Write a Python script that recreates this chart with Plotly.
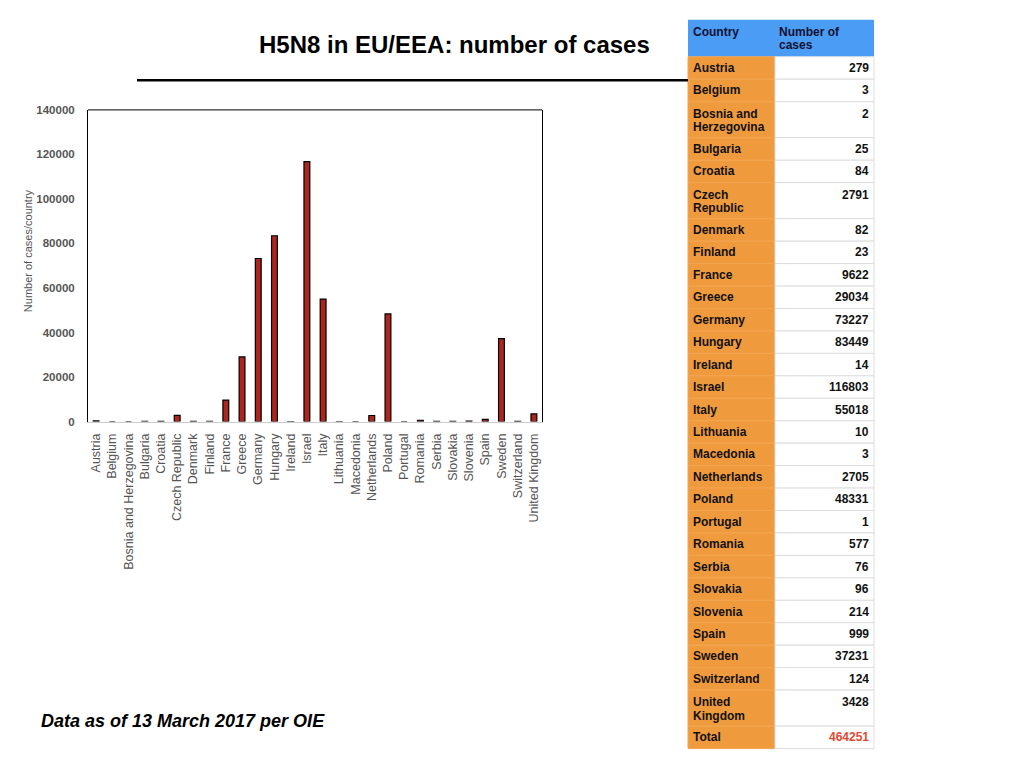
import plotly.graph_objects as go

countries = ["Austria", "Belgium", "Bosnia and Herzegovina", "Bulgaria", "Croatia",
             "Czech Republic", "Denmark", "Finland", "France", "Greece", "Germany",
             "Hungary", "Ireland", "Israel", "Italy", "Lithuania", "Macedonia",
             "Netherlands", "Poland", "Portugal", "Romania", "Serbia", "Slovakia",
             "Slovenia", "Spain", "Sweden", "Switzerland", "United Kingdom"]
cases = [279, 3, 2, 25, 84, 2791, 82, 23, 9622, 29034, 73227, 83449, 14, 116803,
         55018, 10, 3, 2705, 48331, 1, 577, 76, 96, 214, 999, 37231, 124, 3428]
total = 464251

# names as wrapped in the table
table_names = ["Austria", "Belgium", "Bosnia and<br>Herzegovina", "Bulgaria", "Croatia",
               "Czech<br>Republic", "Denmark", "Finland", "France", "Greece", "Germany",
               "Hungary", "Ireland", "Israel", "Italy", "Lithuania", "Macedonia",
               "Netherlands", "Poland", "Portugal", "Romania", "Serbia", "Slovakia",
               "Slovenia", "Spain", "Sweden", "Switzerland", "United<br>Kingdom"]
header = ["Country", "Number of<br>cases"]

# figure size and where the page puts it (measured on the screenshot)
W, H = 1016, 752
OX, OY = 8, 14.3
HE = 738.5

def X(x):
    return (x - OX) / W

def Y(y):
    return 1 - (y - OY) / HE

FONT = "Liberation Sans, Arial, Helvetica"
GRAY = "#555555"

fig = go.Figure()
fig.add_trace(go.Bar(
    x=countries, y=cases, width=0.36,
    marker=dict(color="#ac261d", line=dict(color="black", width=1.2)),
    showlegend=False))

shapes = []
annotations = []

# table drawn with shapes and annotations
tx0, tx1, tx2 = 688, 775, 874
top = 20
head_h = 37
single_h, double_h = 22.4, 36
blue, orange = "#4b9cf4", "#f09a3e"

def cell_text(text, x, y, anchor, color="#111111"):
    annotations.append(dict(text="<b>%s</b>" % text, xref="paper", yref="paper",
                            x=X(x), y=Y(y), showarrow=False, xanchor=anchor,
                            yanchor="middle", font=dict(size=12, color=color)))

shapes.append(dict(type="rect", xref="paper", yref="paper", x0=X(tx0), x1=X(tx2),
                   y0=Y(top + head_h), y1=Y(top), fillcolor=blue, line=dict(width=0),
                   layer="below"))
for j, h in enumerate(header):
    xx = tx0 + 3 if j == 0 else tx1 + 2
    for k, line in enumerate(h.split("<br>")):
        cell_text(line, xx, top + 12 + 13.5 * k, "left", "#111133")

rows = list(zip(table_names, ["%d" % v for v in cases]))
rows.append(("Total", "%d" % total))
y = top + head_h
for i, (name, val) in enumerate(rows):
    lines = name.split("<br>")
    h = single_h if len(lines) == 1 else double_h
    shapes.append(dict(type="rect", xref="paper", yref="paper", x0=X(tx0), x1=X(tx1),
                       y0=Y(y + h), y1=Y(y), fillcolor=orange,
                       line=dict(color="#f2a550", width=1), layer="below"))
    shapes.append(dict(type="rect", xref="paper", yref="paper", x0=X(tx1), x1=X(tx2),
                       y0=Y(y + h), y1=Y(y), fillcolor="white",
                       line=dict(color="#dddddd", width=1), layer="below"))
    if len(lines) == 1:
        cell_text(name, tx0 + 3, y + h / 2, "left")
    else:
        for k, line in enumerate(lines):
            cell_text(line, tx0 + 3, y + 12 + 13.5 * k, "left")
    color = "#e4492f" if name == "Total" else "#111111"
    cell_text(val, tx2 - 3, y + (h / 2 if len(lines) == 1 else 12), "right", color)
    y += h

# plot frame top line and title rule
shapes.append(dict(type="line", xref="x domain", yref="y domain", x0=0, x1=1, y0=1, y1=1,
                   line=dict(color="black", width=1)))
shapes.append(dict(type="line", xref="paper", yref="paper", x0=X(137), x1=X(688),
                   y0=Y(80.5), y1=Y(80.5), line=dict(color="black", width=2.5)))

annotations += [
    dict(text="<b>H5N8 in EU/EEA: number of cases</b>", xref="paper", yref="paper",
         x=X(454), y=Y(45), showarrow=False, xanchor="center", yanchor="middle",
         font=dict(size=24, color="black")),
    dict(text="Number of cases/country", xref="paper", yref="paper",
         x=X(28), y=Y(251), showarrow=False, textangle=-90,
         xanchor="center", yanchor="middle", font=dict(size=11, color=GRAY)),
    dict(text="<b><i>Data as of 13 March 2017 per OIE</i></b>", xref="paper",
         yref="paper", x=X(39), y=Y(720), showarrow=False,
         xanchor="left", yanchor="middle", font=dict(size=18, color="black")),
]

fig.update_layout(
    width=W, height=H,
    margin=dict(l=0, r=0, t=0, b=0),
    paper_bgcolor="white", plot_bgcolor="white",
    font=dict(family=FONT),
    xaxis=dict(domain=[X(88), X(542)], showline=True, linecolor="#cccccc", linewidth=1,
               tickangle=-90, ticks="", showgrid=False, ticklabelstandoff=6,
               tickfont=dict(size=12.5, color=GRAY)),
    yaxis=dict(domain=[Y(421), Y(110)], range=[0, 140000], dtick=20000, tickformat="d",
               showline=True, linecolor="black", linewidth=1, mirror=True,
               showgrid=False, zeroline=False, ticks="", ticklabelstandoff=10,
               tickfont=dict(size=11.5, color=GRAY, weight="bold")),
    shapes=shapes,
    annotations=annotations)

fig.write_html("out.html")
